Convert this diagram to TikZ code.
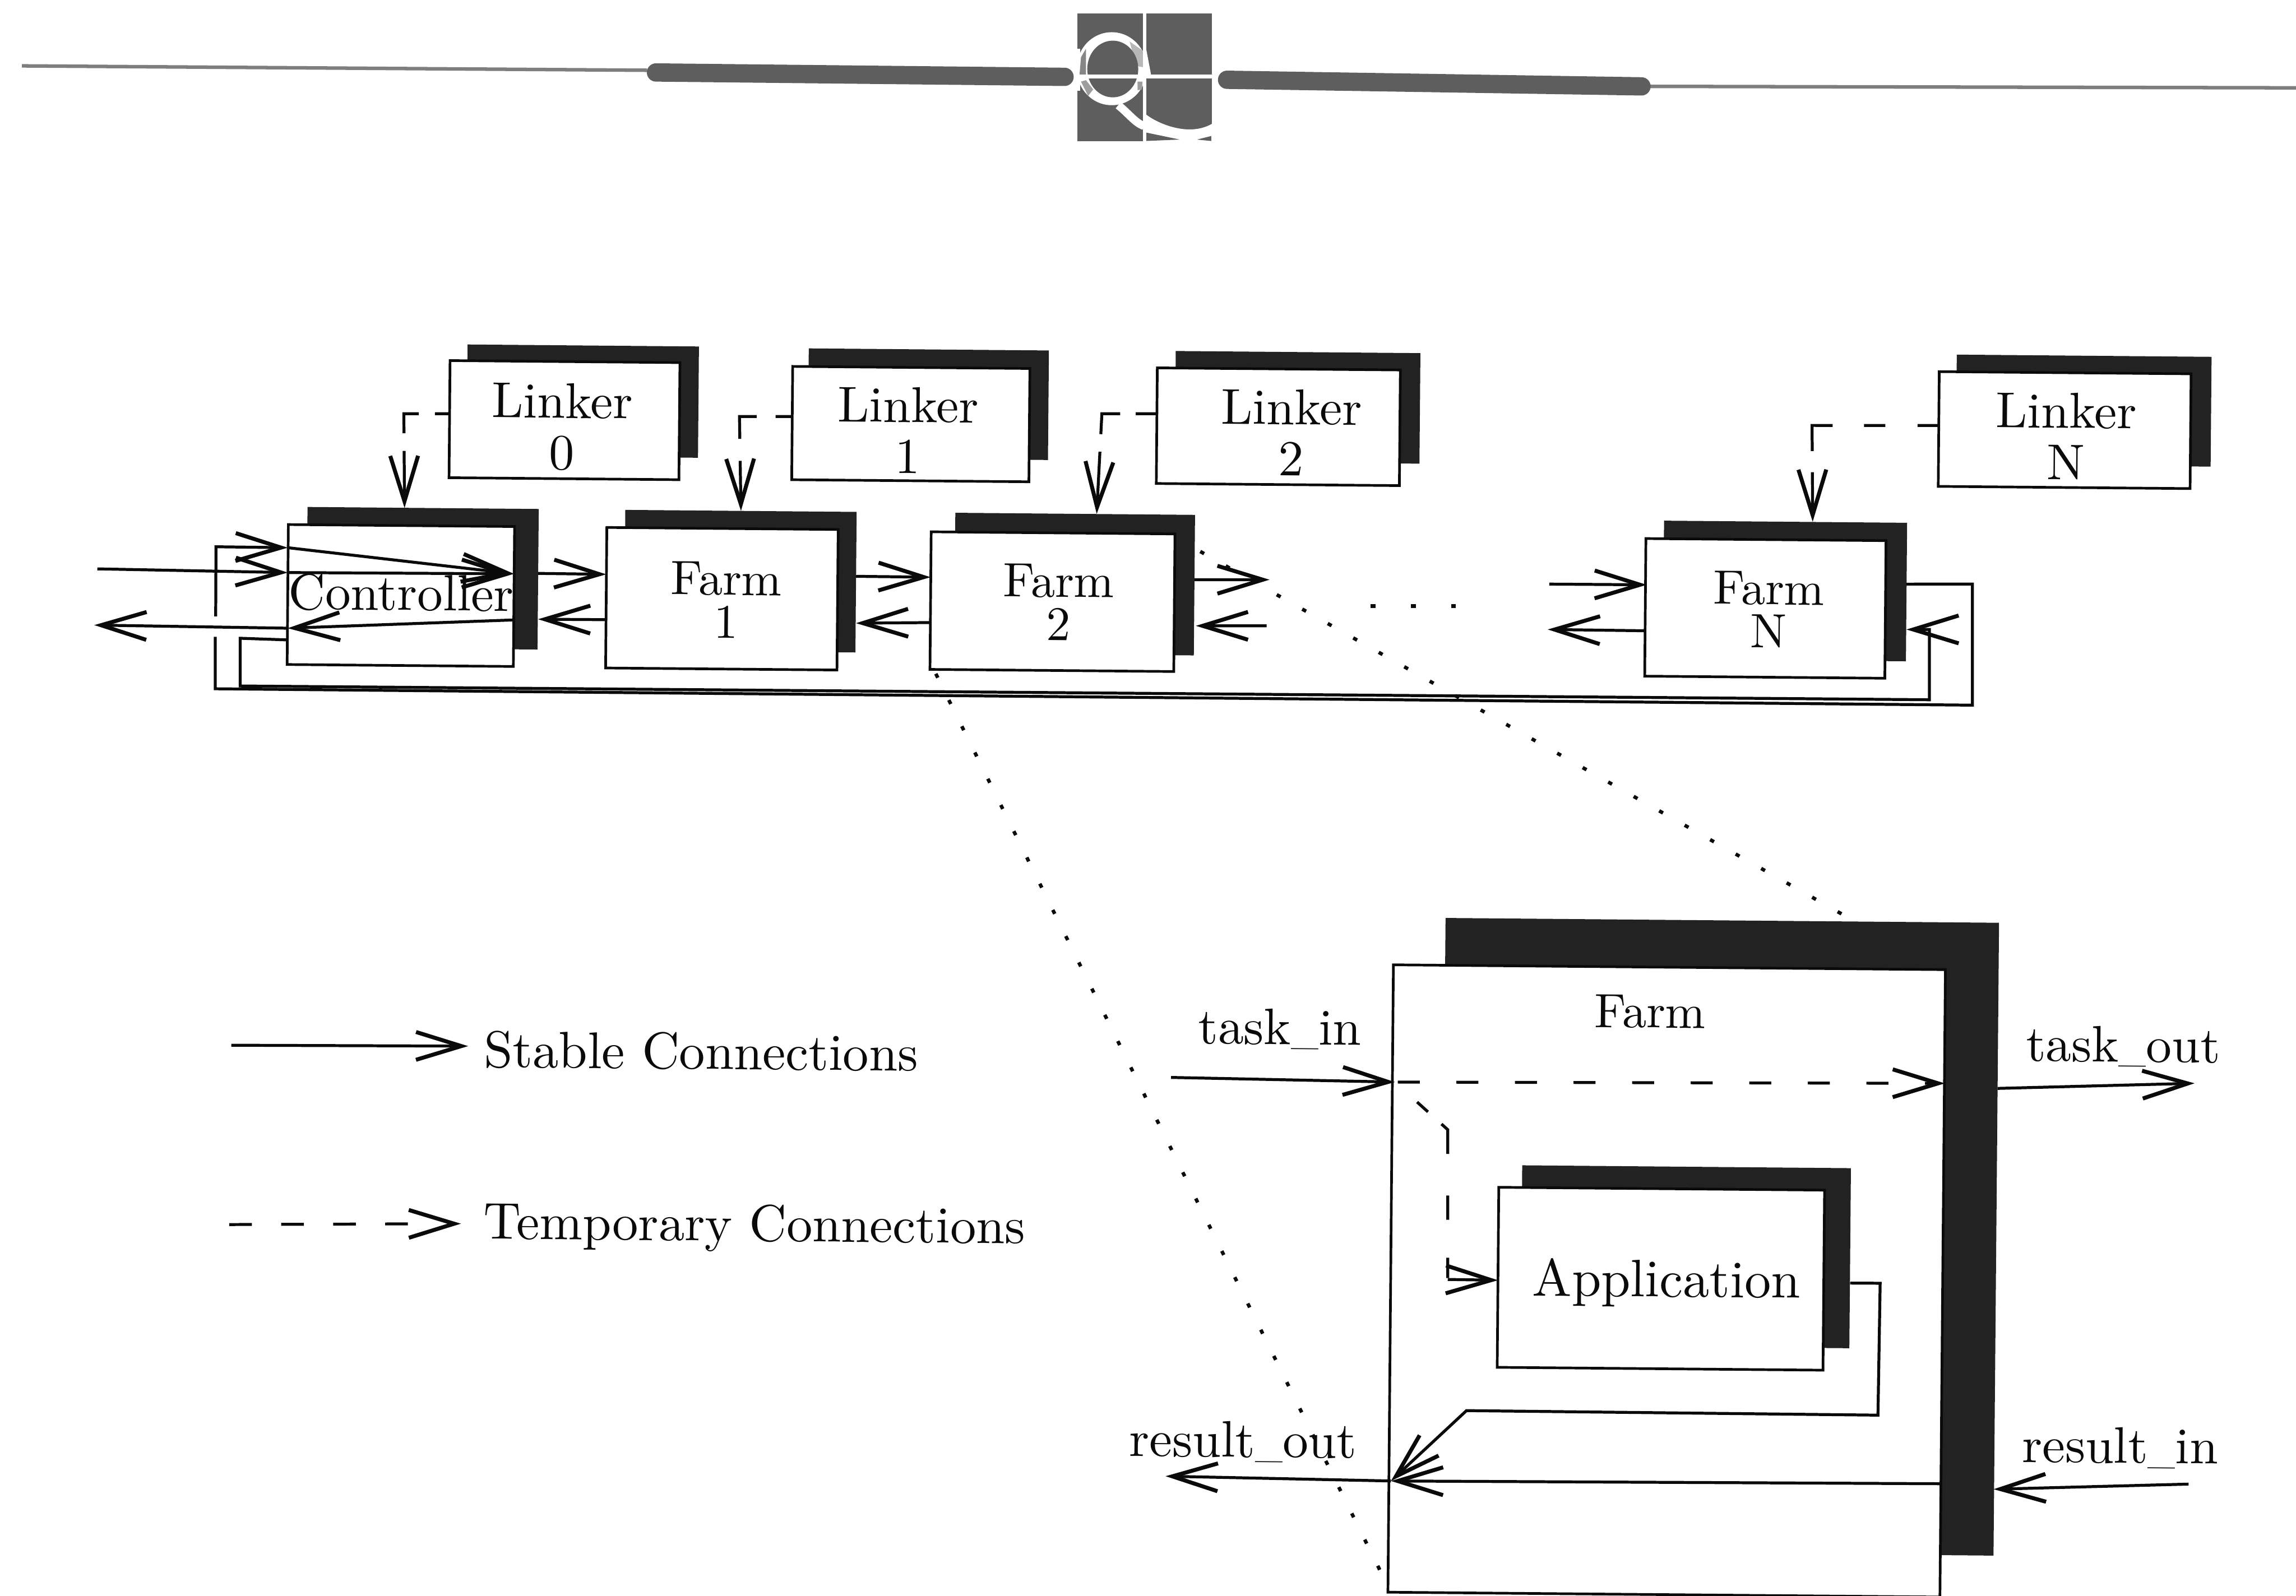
\documentclass[tikz,border=0pt]{standalone}
\usepackage{fontspec}
\setmainfont{lmroman10-regular.otf}
\usetikzlibrary{arrows.meta}
\definecolor{shade}{HTML}{222222}
\definecolor{barc}{HTML}{5E5E5E}
\definecolor{ink}{HTML}{0A0A0A}
\newcommand{\lowbar}{{\fontsize{25}{25}\selectfont\_}}
\tikzset{
  shadowbox/.style={fill=shade,draw=none,rotate=-0.5,inner sep=0pt,outer sep=0pt},
  whitebox/.style={fill=white,draw=ink,line width=1.8pt,rotate=-0.5,inner sep=0pt,outer sep=0pt},
  lab/.style={text=ink,rotate=-0.5,inner sep=0pt,font=\fontsize{34.4}{35}\selectfont,align=center},
  farmlab/.style={lab,font=\fontsize{33}{29.5}\selectfont},
  portlab/.style={lab,font=\fontsize{35}{36}\selectfont},
  wire/.style={draw=ink,line width=2pt},
  barb/.style={-{Straight Barb[length=31pt,width=19pt,line width=2.7pt]}},
  stable/.style={wire,barb},
  temp/.style={wire,dash pattern=on 15pt off 25pt,barb},
  dots/.style={draw=ink,line width=2.4pt,dash pattern=on 3pt off 17pt},
  bar/.style={draw=barc,line width=12.5pt,line cap=round},
  thinbar/.style={draw=barc!80,line width=2.4pt},
  logo/.style={fill=barc},
}
\newcommand{\stackbox}[9]{%
  \pgfmathsetmacro{\sw}{#8-#6}\pgfmathsetmacro{\sh}{#9-#7}%
  \pgfmathsetmacro{\sx}{(#8+#6)/2}\pgfmathsetmacro{\sy}{(#9+#7)/2}%
  \pgfmathsetmacro{\bw}{#4-#2}\pgfmathsetmacro{\bh}{#5-#3}%
  \pgfmathsetmacro{\bx}{(#4+#2)/2}\pgfmathsetmacro{\by}{(#5+#3)/2}%
  \node[shadowbox,minimum width=\sw pt,minimum height=\sh pt] (#1-s) at (\sx,\sy) {};
  \node[whitebox,minimum width=\bw pt,minimum height=\bh pt] (#1) at (\bx,\by) {};
}
\begin{document}
\begin{tikzpicture}[x=1pt,y=-1pt]
\useasboundingbox (0,0) rectangle (1568,1090);
\fill[white] (0,0) rectangle (1568,1090);

% header rule
\draw[thinbar] (15,45) -- (442,48);
\draw[thinbar] (1127,59) -- (1568,60);
\draw[bar] (448,49.5) -- (727,52.5);
\draw[bar] (838,54.5) -- (1121,59);

% logo
\begin{scope}[shift={(704,0)},x=0.09778pt,y=-0.09778pt]
  \fill[logo] (325,95) rectangle (1265,985);
  \fill[white] (565,480) ellipse [x radius=245,y radius=255];
  \fill[white] (318,340) rectangle (345,635);
  \fill[white] (805,340) -- (840,525) -- (790,525) -- cycle;
  \fill[white] (805,800) .. controls (880,860) and (1100,960) .. (1265,865) -- (1270,990) -- (800,990) -- cycle;
  \fill[logo] (800,925) -- (1040,975) -- (800,985) -- cycle;
  \fill[logo] (1160,975) -- (1260,950) -- (1260,985) -- cycle;
  \fill[logo] (700,720) -- (785,675) -- (785,850) -- cycle;
  \fill[barc!75] (340,520) -- (350,400) -- (385,340) -- (385,520) -- cycle;
  \fill[barc!45] (690,290) -- (790,360) -- (785,470) -- (735,460) -- cycle;
  \fill[barc!60] (350,570) -- (385,560) -- (435,625) -- (400,670) -- cycle;
  \fill[barc!60] (745,570) -- (780,570) -- (775,625) -- (745,630) -- cycle;
  \fill[logo] (572,482) ellipse [x radius=178,y radius=198];
  \draw[white,line width=5.5pt] (610,735) .. controls (680,790) and (730,860) .. (790,880);
  \draw[white,line width=2.3pt] (795,90) -- (795,990);
  \draw[white,line width=2.8pt] (320,535) -- (1270,535);
\end{scope}

% linkers
\stackbox{linkerzero}{307}{247}{464}{327}{319}{236}{477}{312}
\stackbox{linkerone}{541}{251}{703}{328.4}{552}{238.7}{716}{313.5}
\stackbox{linkertwo}{790}{252}{956}{331}{802.6}{240.5}{969.7}{316}
\stackbox{linkern}{1324}{254.6}{1496}{333}{1336}{243}{1510}{318}
% farms
\stackbox{ctrl}{196.5}{359}{351}{454.6}{209.6}{347}{367.5}{443}
\stackbox{farmone}{414}{361}{572}{457}{426.6}{349}{584.6}{445}
\stackbox{farmtwo}{635.5}{364}{802}{458}{652}{351}{815.7}{447}
\stackbox{farmn}{1123.6}{368.6}{1287.6}{462.6}{1136}{356.4}{1302}{451}
% enlarged farm
\stackbox{big}{949.7}{660.7}{1326.7}{1089.3}{985.3}{628.7}{1363.3}{1061}
\stackbox{app}{1023}{812}{1245.5}{935}{1039}{797}{1263.5}{920}

% box labels
\node[lab] (tl0) at (384,291.5) {Linker\\0};
\node[lab] (tl1) at (620,294) {Linker\\1};
\node[lab] (tl2) at (882,295.5) {Linker\\2};
\node[lab] (tln) at (1411,298) {Linker\\N};
\node[lab,font=\fontsize{34.8}{35}\selectfont] (tctrl) at (274,405) {Controller};
\node[farmlab] (tf1) at (496,410) {Farm\\1};
\node[farmlab] (tf2) at (723,411.5) {Farm\\2};
\node[farmlab] (tfn) at (1208,416.5) {Farm\\N};
\node[lab,font=\fontsize{33}{35}\selectfont] (tbig) at (1127,691) {Farm};
\node[lab,font=\fontsize{36}{36}\selectfont] (tapp) at (1138,876.5) {Application};

% linker connectors
\draw[wire,barb,dash pattern=on 10pt off 11pt on 23.6pt off 12pt on 100pt] ([yshift=3.7pt]linkerzero.west) -- (275.8,282.6) -- ([xshift=-12.7pt]ctrl-s.north);
\draw[wire,barb,dash pattern=on 11.3pt off 13pt on 27pt off 15pt on 100pt] ([yshift=4.5pt]linkerone.west) -- (505,284.5) -- (farmone-s.north);
\draw[wire,barb,dash pattern=on 14.4pt off 10.6pt on 26.5pt off 12pt on 100pt] ([yshift=8.2pt]linkertwo.west) -- (752.5,282.6) -- ([xshift=14.7pt]farmtwo-s.north);
\draw[wire,barb,dash pattern=on 14.5pt off 22pt on 14.5pt off 21.5pt on 31.5pt off 14.5pt on 100pt] ([yshift=2.4pt]linkern.west) -- (1237.5,290.6) -- ([xshift=18.5pt]farmn-s.north);

% controller inputs and outputs
\coordinate (extin) at (66.5,388.6);
\coordinate (extout) at (64.4,427);
\draw[stable] (extin) -- ([yshift=15pt]ctrl.west);
\draw[stable] ([yshift=32pt]ctrl.west) -- ([yshift=15.5pt]ctrl.east);
\draw[stable] ([yshift=15pt]ctrl.west) -- ([yshift=15.5pt]ctrl.east);
\draw[stable] ([yshift=-16pt]ctrl.east) -- ([yshift=-23pt]ctrl.west);
\draw[stable] ([yshift=-23pt]ctrl.west) -- (extout);

% chain
\draw[stable] ([yshift=4pt]ctrl-s.east) -- ([yshift=16pt]farmone.west);
\draw[stable] ([yshift=-15pt]farmone.west) -- ([yshift=-27.3pt]ctrl-s.east);
\draw[stable] ([yshift=4pt]farmone-s.east) -- ([yshift=16pt]farmtwo.west);
\draw[stable] ([yshift=-15pt]farmtwo.west) -- ([yshift=-28pt]farmone-s.east);
\coordinate (ftwoout) at (867,396);
\coordinate (ftwoback) at (865,427.5);
\draw[stable] ([yshift=3.7pt]farmtwo-s.east) -- (ftwoout);
\draw[stable] (ftwoback) -- ([xshift=1pt,yshift=-27.8pt]farmtwo-s.east);
\coordinate (fnin) at (1058,399);
\coordinate (fnout) at (1057,430);
\draw[stable] (fnin) -- ([yshift=15.4pt,xshift=1pt]farmn.west);
\draw[stable] ([yshift=-16pt]farmn.west) -- (fnout);

% return loops
\draw[wire] ([yshift=5.4pt]farmn-s.east) -- (1347,399) -- (1347,481.7) -- (147,470.5) -- (147,435);
\draw[stable] (147.3,421) -- (147.5,373.5) -- ([yshift=32pt]ctrl.west);
\draw[stable] ([yshift=-31pt]ctrl.west) -- (164,436) -- (164,468.6) -- (1317.6,478) -- (1317.6,430) -- ([yshift=-25.6pt]farmn-s.east);

% zoom lines
\draw[dots] ([xshift=4pt,yshift=23pt]farmtwo-s.east) -- ([xshift=84pt,yshift=3pt]big-s.north);
\draw[dots] ([xshift=4pt,yshift=-3pt]farmtwo.south west) -- ([xshift=-2pt,yshift=8pt]big.south west);
\draw[draw=ink,line width=2.6pt,dash pattern=on 3.5pt off 24pt] (936,414) -- (994,414);

% enlarged farm connectors
\coordinate (tiin) at (799.7,736);
\coordinate (toout) at (1498.7,740);
\coordinate (riin) at (1494.6,1013.8);
\coordinate (roout) at (796,1008.4);
\coordinate (tijoin) at ([xshift=2.9pt,yshift=134.2pt]big.west);
\coordinate (rojoin) at ([xshift=0.2pt,yshift=-138.3pt]big.west);
\draw[stable] (tiin) -- (tijoin);
\draw[temp] ([xshift=2pt]tijoin) -- ([xshift=1.5pt,yshift=136.6pt]big.east);
\draw[stable] ([xshift=0.9pt,yshift=103pt]big-s.east) -- (toout);
\draw[wire,dash pattern=on 0pt off 20.4pt on 10pt off 12.4pt on 22.3pt off 28.5pt on 16.5pt off 26pt on 15pt off 100pt] (tijoin) -- (988.7,771.7) -- (988.7,873);
\draw[stable] (988.7,874) -- ([yshift=-2pt]app.west);
\draw[stable] ([yshift=-17pt]app-s.east) -- (1284,876.6) -- (1282.5,966.7) -- (1001.5,963.6) -- (rojoin);
\draw[stable] ([xshift=-1.2pt,yshift=-136.9pt]big.east) -- (rojoin);
\draw[stable] (rojoin) -- (roout);
\draw[stable] (riin) -- ([xshift=-1.8pt,yshift=-170.8pt]big-s.east);

% port labels
\node[portlab] (tti) at (874,703) {task\lowbar in};
\node[portlab] (tto) at (1450,715) {task\lowbar out};
\node[portlab] (tro) at (849,985) {result\lowbar out};
\node[portlab] (tri) at (1448,989) {result\lowbar in};

% legend
\coordinate (lega) at (158,714);
\coordinate (legb) at (319.7,714.6);
\coordinate (legc) at (156.5,836.5);
\coordinate (legd) at (314.8,835.9);
\draw[stable] (lega) -- (legb);
\draw[wire,barb,dash pattern=on 15.5pt off 20pt on 15.5pt off 20pt on 15.5pt off 20pt on 15.5pt off 100pt] (legc) -- (legd);
\node[lab,anchor=west,font=\fontsize{35.3}{36}\selectfont] (tstable) at (330.5,717) {Stable Connections};
\node[lab,anchor=west,font=\fontsize{35.3}{36}\selectfont] (ttemp) at (330,837.5) {Temporary Connections};
\end{tikzpicture}
\end{document}
